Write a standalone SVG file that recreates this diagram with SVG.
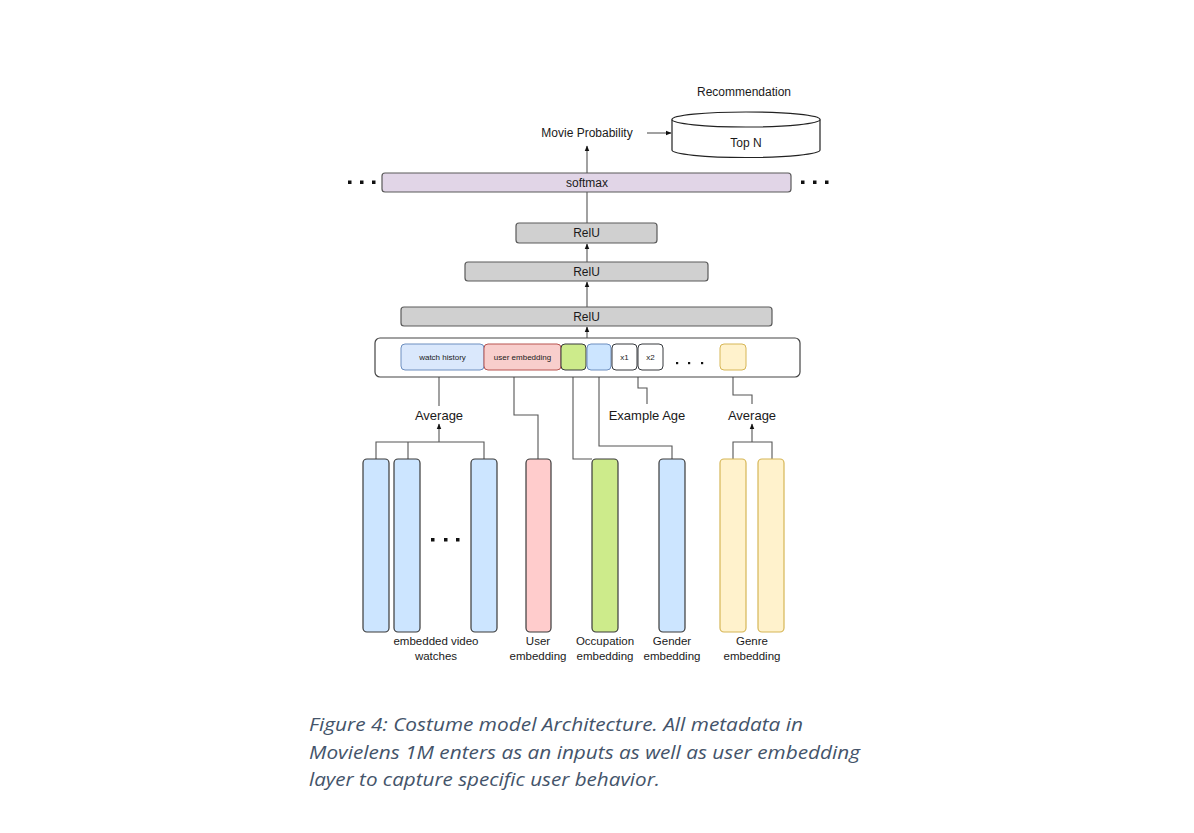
<svg xmlns="http://www.w3.org/2000/svg" width="1194" height="833" viewBox="0 0 1194 833">
<style>
text{font-family:"Liberation Sans",Arial,sans-serif;fill:#1a1a1a;text-anchor:middle;dominant-baseline:central}
.l13{font-size:13px}
.l12{font-size:12px}
.l11{font-size:11.5px}
.l8{font-size:8px}
.gray{fill:#d0d0d0;stroke:#5a5a5a;stroke-width:1.2}
.bar{stroke:#3a3a3a;stroke-width:1.2}
.blue{fill:#cce5ff}
.ln{fill:none;stroke:#555;stroke-width:1.1}
.dot{fill:#111}
.cap{font-family:"Open Sans","Liberation Sans",sans-serif;font-style:italic;font-size:19px;fill:#44546a;text-anchor:start;dominant-baseline:alphabetic}
</style>
<defs>
<marker id="ah" viewBox="0 0 10 10" refX="9" refY="5" markerWidth="6" markerHeight="6" orient="auto" markerUnits="userSpaceOnUse">
<path d="M0,1 L10,5 L0,9 Z" fill="#111"/>
</marker>
</defs>
<rect width="1194" height="833" fill="#fff"/>

<g id="connectors">
<path class="ln" d="M647 133 H671" marker-end="url(#ah)"/>
<path class="ln" d="M587 173 V146" marker-end="url(#ah)"/>
<path class="ln" d="M587 223 V192" />
<path class="ln" d="M587 262 V244" marker-end="url(#ah)"/>
<path class="ln" d="M587 307 V282" marker-end="url(#ah)"/>
<path class="ln" d="M587 338 V327" marker-end="url(#ah)"/>
<path class="ln" d="M439 406 V371" marker-end="url(#ah)"/>
<path class="ln" d="M538 459 V415 H514 V371" marker-end="url(#ah)"/>
<path class="ln" d="M592 459 H573 V371" marker-end="url(#ah)"/>
<path class="ln" d="M672 459 V446 H599 V371" marker-end="url(#ah)"/>
<path class="ln" d="M647 404 V388 H638 V371" marker-end="url(#ah)"/>
<path class="ln" d="M752 404 V395 H733 V371" marker-end="url(#ah)"/>
<path class="ln" d="M376 459 V442 H484 V459 M408 442 V459 M439 442 V424" marker-end="url(#ah)"/>
<path class="ln" d="M733 459 V442 H772 V459 M752 442 V424" marker-end="url(#ah)"/>
</g>

<g id="recommendation">
<text class="l12" x="744" y="92">Recommendation</text>
<path d="M672 119.5 V150 A74 7.5 0 0 0 820 150 V119.5" fill="#fff" stroke="#222" stroke-width="1.2"/>
<ellipse cx="746" cy="119.5" rx="74" ry="7.5" fill="#fff" stroke="#222" stroke-width="1.2"/>
<text class="l12" x="746" y="143">Top N</text>
</g>

<g id="movie-probability"><text class="l12" x="587" y="133">Movie Probability</text></g>

<g id="softmax">
<rect x="382" y="173" width="409" height="19" rx="3" fill="#e1d5e7" stroke="#5a5a5a" stroke-width="1.2"/>
<text class="l12" x="587" y="182.5">softmax</text>
<rect class="dot" x="348" y="180.5" width="3.5" height="3.5"/>
<rect class="dot" x="360" y="180.5" width="3.5" height="3.5"/>
<rect class="dot" x="372" y="180.5" width="3.5" height="3.5"/>
<rect class="dot" x="801" y="180.5" width="3.5" height="3.5"/>
<rect class="dot" x="813" y="180.5" width="3.5" height="3.5"/>
<rect class="dot" x="825" y="180.5" width="3.5" height="3.5"/>
</g>

<g id="relu3"><rect class="gray" x="516" y="223" width="141" height="20" rx="3"/><text class="l12" x="586.5" y="233">RelU</text></g>
<g id="relu2"><rect class="gray" x="465" y="262" width="243" height="19" rx="3"/><text class="l12" x="586.5" y="271.5">RelU</text></g>
<g id="relu1"><rect class="gray" x="401" y="307" width="371" height="19" rx="3"/><text class="l12" x="586.5" y="316.5">RelU</text></g>

<g id="concat">
<rect x="375" y="338" width="425" height="39" rx="5" fill="#fff" stroke="#444" stroke-width="1.2"/>
<rect x="401" y="344" width="83" height="26" rx="4" fill="#dae8fc" stroke="#6c8ebf" stroke-width="1"/>
<text class="l8" x="442.5" y="357">watch history</text>
<rect x="484" y="344" width="77" height="26" rx="4" fill="#f8cecc" stroke="#b85450" stroke-width="1"/>
<text class="l8" x="522.5" y="357">user embedding</text>
<rect x="561" y="344" width="25" height="26" rx="4" fill="#cdeb8b" stroke="#36393d" stroke-width="1"/>
<rect x="587" y="344" width="24" height="26" rx="4" fill="#cce5ff" stroke="#6c8ebf" stroke-width="1"/>
<rect x="612" y="344" width="25" height="26" rx="4" fill="#fff" stroke="#36393d" stroke-width="1"/>
<text class="l8" x="624.5" y="357">x1</text>
<rect x="638" y="344" width="25" height="26" rx="4" fill="#fff" stroke="#36393d" stroke-width="1"/>
<text class="l8" x="650.5" y="357">x2</text>
<rect class="dot" x="676" y="362" width="2.2" height="2.2"/>
<rect class="dot" x="688" y="362" width="2.2" height="2.2"/>
<rect class="dot" x="701" y="362" width="2.2" height="2.2"/>
<rect x="720" y="344" width="26" height="26" rx="4" fill="#fff2cc" stroke="#d6b656" stroke-width="1"/>
</g>

<g id="average-left"><text class="l13" x="439" y="415">Average</text></g>
<g id="example-age"><text class="l13" x="647" y="415">Example Age</text></g>
<g id="average-right"><text class="l13" x="752" y="415">Average</text></g>

<g id="watch-bars">
<rect class="bar blue" x="363" y="459" width="26" height="173" rx="4"/>
<rect class="bar blue" x="394" y="459" width="26" height="173" rx="4"/>
<rect class="bar blue" x="471" y="459" width="26" height="173" rx="4"/>
<rect class="dot" x="431" y="538" width="3.5" height="3.5"/>
<rect class="dot" x="444" y="538" width="3.5" height="3.5"/>
<rect class="dot" x="456" y="538" width="3.5" height="3.5"/>
<text class="l11" x="436" y="641">embedded video</text>
<text class="l11" x="436" y="656">watches</text>
</g>

<g id="user-emb">
<rect class="bar" x="526" y="459" width="25" height="173" rx="4" fill="#ffcccc"/>
<text class="l11" x="538" y="641">User</text>
<text class="l11" x="538" y="656">embedding</text>
</g>

<g id="occupation-emb">
<rect class="bar" x="592" y="459" width="26" height="173" rx="4" fill="#cdeb8b"/>
<text class="l11" x="605" y="641">Occupation</text>
<text class="l11" x="605" y="656">embedding</text>
</g>

<g id="gender-emb">
<rect class="bar blue" x="659" y="459" width="26" height="173" rx="4"/>
<text class="l11" x="672" y="641">Gender</text>
<text class="l11" x="672" y="656">embedding</text>
</g>

<g id="genre-emb">
<rect x="720" y="459" width="26" height="173" rx="4" fill="#fff2cc" stroke="#d6b656" stroke-width="1.2"/>
<rect x="758" y="459" width="26" height="173" rx="4" fill="#fff2cc" stroke="#d6b656" stroke-width="1.2"/>
<text class="l11" x="752" y="641">Genre</text>
<text class="l11" x="752" y="656">embedding</text>
</g>

<g id="caption">
<text class="cap" x="309" y="731" textLength="494" lengthAdjust="spacingAndGlyphs">Figure 4: Costume model Architecture. All metadata in</text>
<text class="cap" x="309" y="759" textLength="551" lengthAdjust="spacingAndGlyphs">Movielens 1M enters as an inputs as well as user embedding</text>
<text class="cap" x="309" y="786" textLength="351" lengthAdjust="spacingAndGlyphs">layer to capture specific user behavior.</text>
</g>
</svg>
